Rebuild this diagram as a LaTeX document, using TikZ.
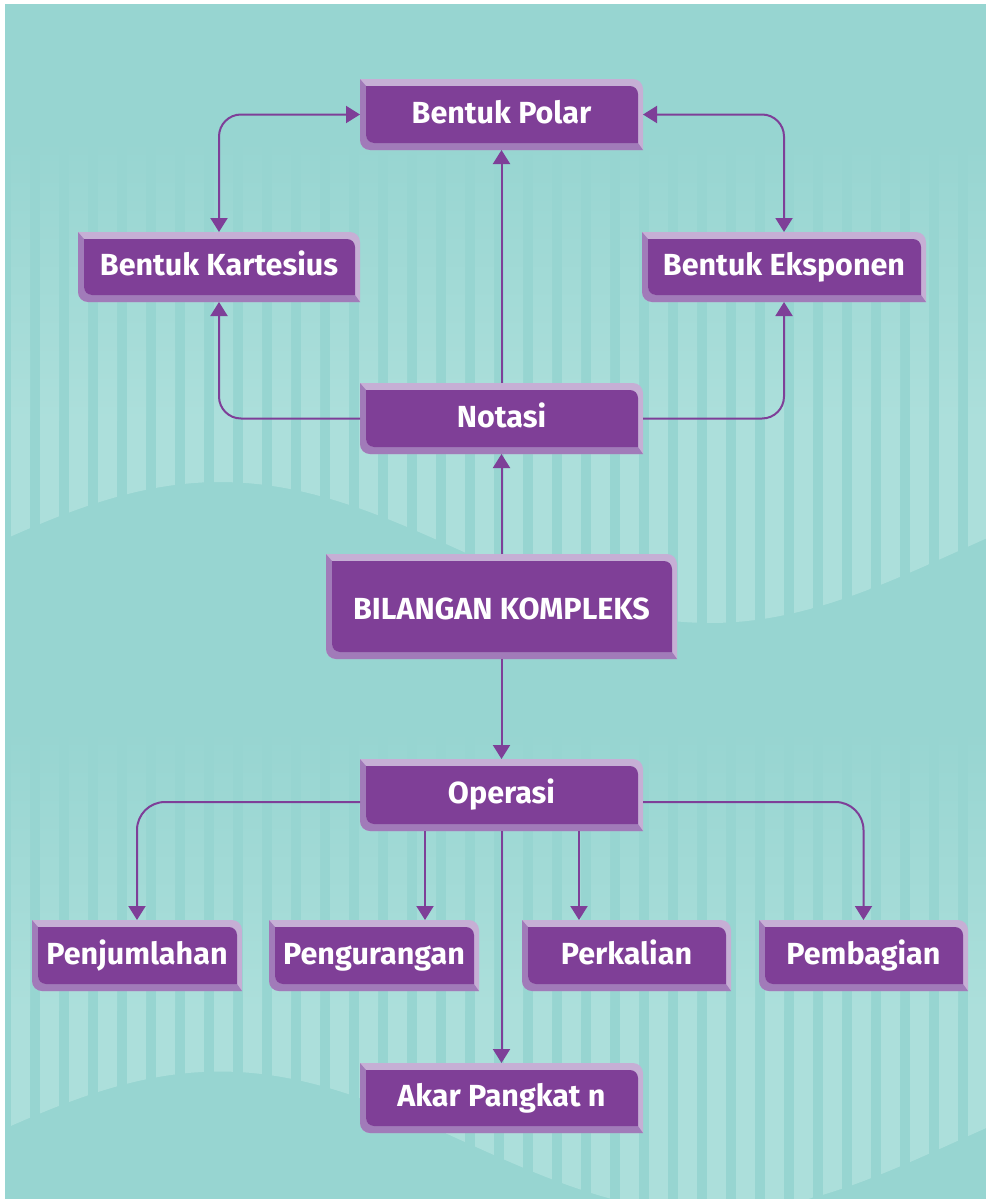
\documentclass[tikz,border=0pt]{standalone}
\usepackage{fontspec}
\setmainfont{Fira Sans}
\usetikzlibrary{arrows.meta}
\definecolor{bgteal}{HTML}{97D5D1}
\definecolor{stripe}{HTML}{ACDFDB}
\definecolor{boxpurple}{HTML}{7F3F97}
\definecolor{flight}{HTML}{C6AFD5}
\definecolor{fmid}{HTML}{A17BB9}
\definecolor{linepurple}{HTML}{7E3F98}
\tikzset{
  boxtext/.style={font=\bfseries\fontsize{30.5}{32}\selectfont, text=white, inner sep=0pt, outer sep=0pt, text height=20pt, text depth=3pt},
  tipshape/.tip={Triangle[length=14pt,width=17pt]},
  conn/.style={draw=linepurple, line width=2pt, -tipshape},
  conntwo/.style={draw=linepurple, line width=2pt, tipshape-tipshape},
}
\newcommand{\mkbox}[7][]{% opts, name, x1, y1, x2, y2, text
  \fill[flight] (#3,#4) -- ({#5-10},#4) .. controls ({#5-4.5},#4) and (#5,{#4+4.5}) .. (#5,{#4+10}) -- (#5,#6) -- ({#3+10},#6) .. controls ({#3+4.5},#6) and (#3,{#6-4.5}) .. (#3,{#6-10}) -- cycle;
  \fill[fmid] (#3,#4) -- ({#3+6},{#4+7}) -- ({#3+6},{#6-15}) .. controls ({#3+6},{#6-10.6}) and ({#3+9.6},{#6-7}) .. ({#3+14},{#6-7}) -- ({#5-5},{#6-7}) -- (#5,#6) -- ({#3+10},#6) .. controls ({#3+4.5},#6) and (#3,{#6-4.5}) .. (#3,{#6-10}) -- cycle;
  \fill[boxpurple] ({#3+6},{#4+7}) -- ({#5-13},{#4+7}) .. controls ({#5-8.6},{#4+7}) and ({#5-5},{#4+10.6}) .. ({#5-5},{#4+15}) -- ({#5-5},{#6-7}) -- ({#3+14},{#6-7}) .. controls ({#3+9.6},{#6-7}) and ({#3+6},{#6-10.6}) .. ({#3+6},{#6-15}) -- cycle;
  \node[boxtext, minimum width={#5-#3}, minimum height={#6-#4}, #1] (#2) at ({(#3+#5)/2},{(#4+#6)/2}) {#7};
}
\begin{document}
\begin{tikzpicture}[x=1pt,y=-1pt]
\useasboundingbox (0,0) rectangle (986,1199);
\fill[white] (0,0) rectangle (986,1199);
\fill[bgteal] (5,4) rectangle (986,1199);
% upper striped band
\begin{scope}
  \clip (5,130) -- (986,130) -- plot[domain=986:5,samples=90] (\x,{552.5-70.5*cos(0.3673469*(\x-220))}) -- cycle;
  \foreach \i in {0,...,33} {
    \shade[top color=bgteal, bottom color=stripe] ({11+29*\i},140) rectangle ({30+29*\i},420);
    \fill[stripe] ({11+29*\i},419.5) rectangle ({30+29*\i},650);
  }
\end{scope}
% lower striped band
\begin{scope}
  \clip (5,720) -- (986,720) -- plot[domain=986:5,samples=90] (\x,{1142-70.5*cos(0.3673469*(\x-220))}) -- cycle;
  \foreach \i in {0,...,33} {
    \shade[top color=bgteal, bottom color=stripe] ({11+29*\i},730) rectangle ({30+29*\i},1010);
    \fill[stripe] ({11+29*\i},1009.5) rectangle ({30+29*\i},1230);
  }
\end{scope}
% boxes
\mkbox{bp}{360}{79}{643}{150}{Bentuk Polar}
\mkbox{bk}{78}{232}{360}{302}{Bentuk Kartesius}
\mkbox{be}{642}{232}{926}{302}{Bentuk Eksponen}
\mkbox{no}{360}{383}{643}{454}{Notasi}
\mkbox[text height=25pt, text depth=0pt]{bil}{326}{554}{677}{659}{BILANGAN KOMPLEKS}
\mkbox{op}{360}{759}{643}{831}{Operasi}
\mkbox{pj}{32}{920}{242}{991}{Penjumlahan}
\mkbox{pg}{269}{920}{479}{991}{Pengurangan}
\mkbox{pk}{522}{920}{731}{991}{Perkalian}
\mkbox{pb}{759}{920}{968}{991}{Pembagian}
\mkbox{ak}{360}{1063}{643}{1133}{Akar Pangkat n}
% connectors
\draw[conntwo, rounded corners=22pt] (bp.west) -| (bk.north);
\draw[conntwo, rounded corners=22pt] (bp.east) -| (be.north);
\draw[conn] (no.north) -- (bp.south);
\draw[conn, rounded corners=22pt] (no.west) -| (bk.south);
\draw[conn, rounded corners=22pt] (no.east) -| (be.south);
\draw[conn] (bil.north) -- (no.south);
\draw[conn] (bil.south) -- (op.north);
\draw[conn, rounded corners=28pt] ([yshift=-7pt]op.west) -| (pj.north);
\draw[conn, rounded corners=28pt] ([yshift=-7pt]op.east) -| (pb.north);
\draw[conn] ([xshift=-76.5pt]op.south) -- ([xshift=-76.5pt]op.south |- pg.north);
\draw[conn] ([xshift=77.5pt]op.south) -- ([xshift=77.5pt]op.south |- pk.north);
\draw[conn] (op.south) -- (ak.north);
\end{tikzpicture}
\end{document}
